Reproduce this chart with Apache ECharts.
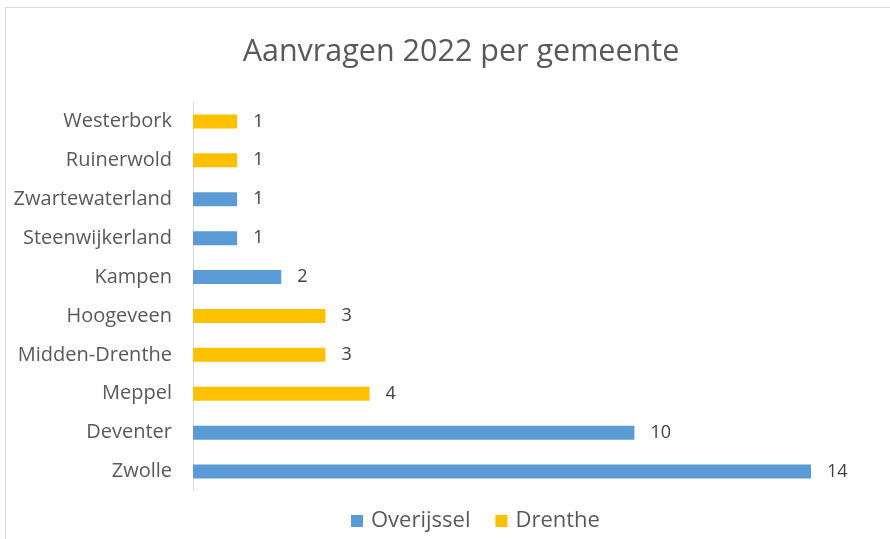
<!DOCTYPE html>
<html>
<head>
<meta charset="utf-8">
<script src="https://cdn.jsdelivr.net/npm/echarts@6/dist/echarts.min.js"></script>
<style>
	html, body { margin: 0; padding: 0; background: #fff; }
	#frame { position: absolute; left: 5px; top: 7px; width: 900px; height: 600px; border: 1px solid #d9d9d9; box-sizing: border-box; }
	#chart { position: absolute; left: 0; top: 0; width: 890px; height: 539px; }
</style>
</head>
<body>
<div id="frame"></div>
<div id="chart"></div>
<script>
// gemeenten, van onder naar boven
var gemeenten = ['Zwolle', 'Deventer', 'Meppel', 'Midden-Drenthe', 'Hoogeveen', 'Kampen', 'Steenwijkerland', 'Zwartewaterland', 'Ruinerwold', 'Westerbork'];
var overijssel = [14, 10, null, null, null, 2, 1, 1, null, null];
var drenthe = [null, null, 4, 3, 3, null, null, null, 1, 1];

var fontFam = '"Open Sans", "Noto Sans", sans-serif';
var chart = echarts.init(document.getElementById('chart'));

var labelOpt = {
	show: true,
	position: 'right',
	distance: 16,
	color: '#404040',
	fontSize: 18,
	fontFamily: fontFam
};

var option = {
	backgroundColor: 'transparent',
	animation: false,
	title: {
		text: 'Aanvragen 2022 per gemeente',
		left: 456,
		textAlign: 'center',
		top: 32,
		textStyle: {
			color: '#595959',
			fontSize: 30.5,
			fontWeight: 'normal',
			fontFamily: fontFam
		}
	},
	legend: {
		data: ['Overijssel', 'Drenthe'],
		left: 346,
		top: 505,
		itemWidth: 12,
		itemHeight: 12,
		itemGap: 25,
		icon: 'rect',
		textStyle: {
			color: '#595959',
			fontSize: 22,
			padding: [0, 0, 0, 3],
			fontFamily: fontFam
		}
	},
	grid: {
		left: 193,
		right: 79,
		top: 102,
		bottom: 48
	},
	xAxis: {
		type: 'value',
		min: 0,
		max: 14,
		show: false
	},
	yAxis: {
		type: 'category',
		data: gemeenten,
		axisTick: { show: false },
		axisLine: { lineStyle: { color: '#d9d9d9' } },
		axisLabel: {
			color: '#595959',
			fontSize: 20,
			margin: 21,
			fontFamily: fontFam
		}
	},
	series: [{
		name: 'Overijssel',
		type: 'bar',
		stack: 'totaal',
		barWidth: 14,
		itemStyle: { color: '#5b9bd5' },
		label: labelOpt,
		data: overijssel
	}, {
		name: 'Drenthe',
		type: 'bar',
		stack: 'totaal',
		barWidth: 14,
		itemStyle: { color: '#ffc000' },
		label: labelOpt,
		data: drenthe
	}]
};
chart.setOption(option);
</script>
</body>
</html>
